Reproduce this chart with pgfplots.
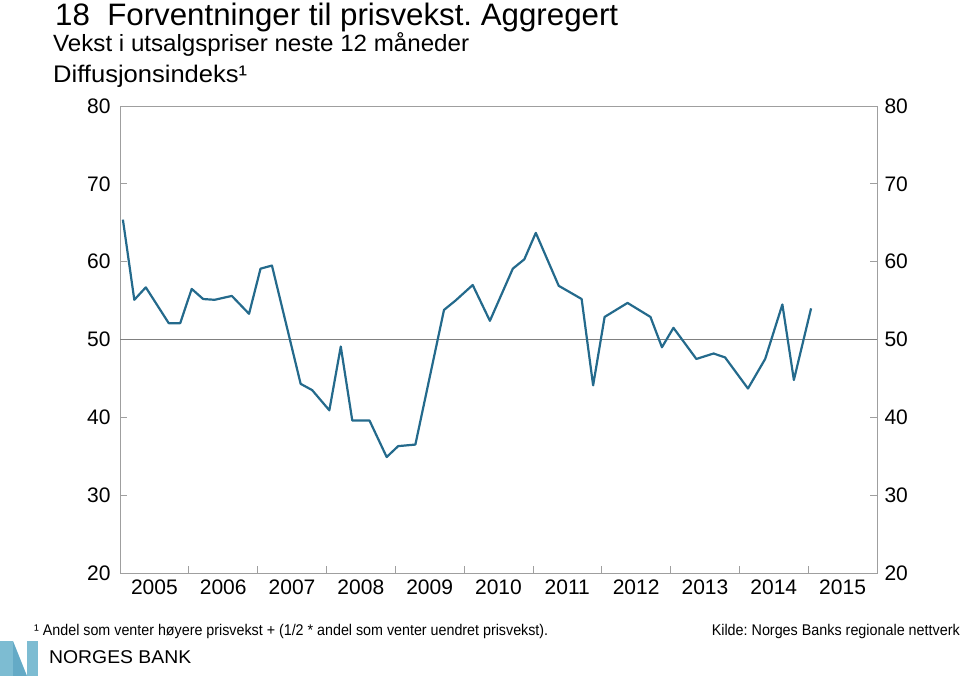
\documentclass[border=0pt]{standalone}
\usepackage{pgfplots}
\pgfplotsset{compat=1.18}
\usepackage{pgfplotstable}
\usepackage{graphicx}
\usepackage{fontspec}
\setmainfont{Liberation Sans}
\definecolor{nbline}{RGB}{36,106,140}
\definecolor{nblogoA}{RGB}{125,188,210}
\definecolor{nblogoB}{RGB}{100,170,198}
\pgfplotstableread{
x y
2005.042 65.4
2005.208 55.1
2005.375 56.7
2005.708 52.1
2005.875 52.1
2006.042 56.5
2006.208 55.2
2006.375 55.1
2006.625 55.6
2006.875 53.3
2007.042 59.1
2007.208 59.5
2007.625 44.3
2007.792 43.5
2008.042 40.9
2008.208 49.1
2008.375 39.6
2008.625 39.6
2008.875 34.9
2009.042 36.3
2009.292 36.5
2009.708 53.8
2009.875 55.0
2010.125 57.0
2010.375 52.4
2010.708 59.1
2010.875 60.3
2011.042 63.7
2011.375 56.9
2011.708 55.2
2011.875 44.1
2012.042 52.9
2012.375 54.7
2012.708 52.9
2012.875 49.0
2013.042 51.5
2013.375 47.5
2013.625 48.2
2013.792 47.7
2014.125 43.7
2014.375 47.5
2014.625 54.5
2014.792 44.8
2015.042 54.0
}\datatable
\begin{document}
\frenchspacing
\begin{tikzpicture}[x=1pt,y=1pt]
\path[use as bounding box] (0,0) rectangle (960,676);
% titles
\node[anchor=base west, inner sep=0] at (55,650) {\resizebox{563pt}{\height}{\fontsize{31}{31}\selectfont 18\ \ Forventninger til prisvekst. Aggregert}};
\node[anchor=base west, inner sep=0] at (53,624) {\resizebox{416pt}{\height}{\fontsize{23.5}{23.5}\selectfont Vekst i utsalgspriser neste 12 måneder}};
\node[anchor=base west, inner sep=0] at (53,593) {\resizebox{194pt}{\height}{\fontsize{24}{24}\selectfont Diffusjonsindeks¹}};
\begin{axis}[
  at={(120pt,103pt)}, anchor=south west, scale only axis,
  width=757pt, height=467pt,
  xmin=2005, xmax=2016, ymin=20, ymax=80,
  axis line style={draw=gray!75, line width=0.8pt},
  ytick={20,30,...,80},
  xtick={2005,2006,...,2016},
  xticklabels={2005,2006,2007,2008,2009,2010,2011,2012,2013,2014,2015,{}},
  xtick pos=lower,
  xticklabel style={xshift=34.4pt, yshift=-3pt},
  tick style={draw=gray!75, line width=0.8pt},
  major tick length=7pt,
  tick align=inside,
  /pgf/number format/assume math mode=true,
  ticklabel style={font=\fontsize{21}{21}\selectfont},
  yticklabel style={xshift=-6pt},
  extra y ticks={50}, extra y tick labels={},
  extra y tick style={grid=major, major grid style={draw=gray, line width=0.9pt}, major tick length=0pt},
]
\addplot[nbline, line width=2.2pt, line join=round] table[x=x,y=y] {\datatable};
\end{axis}
\begin{axis}[
  at={(120pt,103pt)}, anchor=south west, scale only axis,
  width=757pt, height=467pt,
  xmin=2005, xmax=2016, ymin=20, ymax=80,
  hide x axis, axis y line*=right,
  y axis line style={draw=none},
  ytick={20,30,...,80}, major tick length=0pt,
  yticklabel pos=right,
  /pgf/number format/assume math mode=true,
  ticklabel style={font=\fontsize{21}{21}\selectfont},
  yticklabel style={xshift=4pt},
]
\end{axis}
% footnotes
\node[anchor=base west, inner sep=0] at (34,40) {\resizebox{514pt}{\height}{\fontsize{15.5}{15.5}\selectfont ¹ Andel som venter høyere prisvekst + (1/2 * andel som venter uendret prisvekst).}};
\node[anchor=base east, inner sep=0] at (960,40) {\resizebox{248pt}{\height}{\fontsize{15.5}{15.5}\selectfont Kilde: Norges Banks regionale nettverk}};
% logo
\fill[nblogoA] (0,0) rectangle (13,35);
\fill[nblogoB] (13,35) -- (27,0) -- (13,0) -- cycle;
\fill[nblogoA] (27,0) rectangle (38,35);
\node[anchor=base west, inner sep=0] at (49,12) {\resizebox{142pt}{\height}{\fontsize{18.5}{18.5}\selectfont NORGES BANK}};
\end{tikzpicture}
\end{document}
